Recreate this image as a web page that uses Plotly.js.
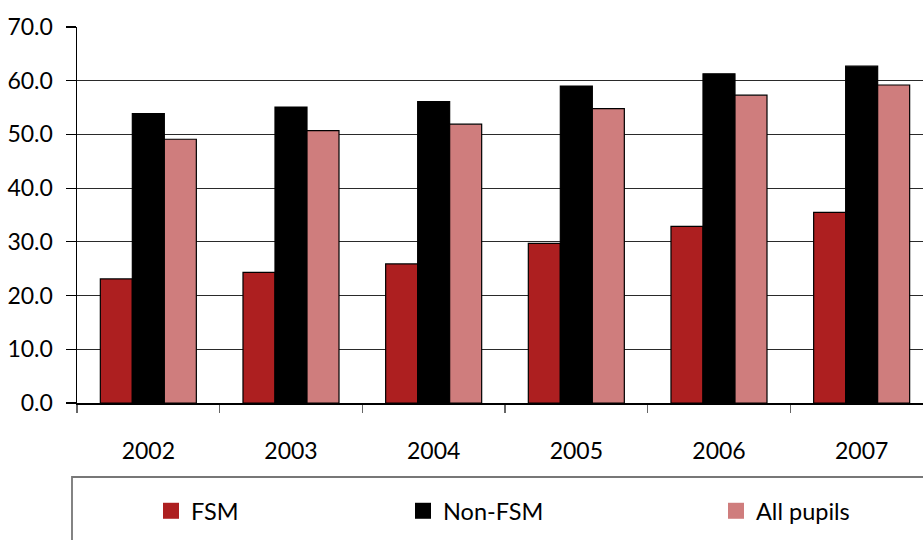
<!DOCTYPE html>
<html><head><meta charset="utf-8">
<script src="https://cdn.plot.ly/plotly-3.0.1.min.js"></script>
<style>html,body{margin:0;padding:0;background:#fff}#c{width:923px;height:540px}</style>
</head><body><div id="c"></div>
<script>
var years = ['2002','2003','2004','2005','2006','2007'];
var fsm = [23.1, 24.3, 25.9, 29.7, 32.9, 35.5];
var nonFsm = [53.9, 55.1, 56.1, 59.0, 61.3, 62.7];
var allPupils = [49.1, 50.7, 51.9, 54.8, 57.3, 59.2];
var seriesNames = ['FSM', 'Non-FSM', 'All pupils'];
var colors = ['#AD1F20', '#000000', '#CF7D7D'];
var seriesVals = [fsm, nonFsm, allPupils];

var font = 'Lato, "Open Sans", sans-serif';
var traces = [];
seriesVals.forEach(function(v, i){
  traces.push({type:'bar', x: years, y: v, name: seriesNames[i], showlegend:false,
    marker:{color: colors[i], line:{color:'#000', width:1.2}}, hoverinfo:'y'});
});
var legendNames = ['legend','legend2','legend3'];
seriesNames.forEach(function(n, i){
  traces.push({type:'scatter', mode:'markers', x:[null], y:[null], name:n,
    legend: legendNames[i], showlegend:true,
    marker:{symbol:'square', size:16, color: colors[i], line:{width:0}}});
});

function leg(px){
  return {xref:'container', yref:'container', x: px/923, y: 1-511/540,
    xanchor:'left', yanchor:'middle', bgcolor:'rgba(0,0,0,0)', borderwidth:0,
    font:{family:font, size:23.5, color:'#000'}};
}

var layout = {
  width:923, height:540,
  margin:{l:77, r:0, t:27, b:137, autoexpand:false},
  paper_bgcolor:'#fff', plot_bgcolor:'#fff',
  barmode:'group', bargap:0.327, bargroupgap:0,
  font:{family:font, size:22, color:'#000'},
  xaxis:{type:'category', categoryarray: years, range:[-0.5, 5.43], autorange:false, showline:true, linecolor:'#000', linewidth:1.5,
    ticks:'outside', tickson:'boundaries', ticklen:8, tickcolor:'#666', tickwidth:1.5, tickangle:0, automargin:false,
    showgrid:false, ticklabelstandoff:27, tickfont:{family:font, size:23, color:'#000'}},
  yaxis:{range:[0,70], autorange:false, dtick:10, tick0:0, tickformat:'.1f', showline:true, linecolor:'#000', linewidth:1.5,
    ticks:'outside', ticklen:10, tickcolor:'#000', tickwidth:1.2, automargin:false,
    showgrid:true, gridcolor:'#2a2a2a', gridwidth:1, zeroline:false,
    ticklabelstandoff:8, tickfont:{family:font, size:23, color:'#000'}},
  showlegend:true,
  legend: leg(151), legend2: leg(403), legend3: leg(716),
  shapes:[{type:'rect', xref:'paper', yref:'paper', x0:(72-77)/846, x1:2, y0:(403-477)/376, y1:-2,
    line:{color:'#777', width:1.8}, fillcolor:'rgba(0,0,0,0)'}]
};
Plotly.newPlot('c', traces, layout, {displayModeBar:false, staticPlot:true});
</script></body></html>
